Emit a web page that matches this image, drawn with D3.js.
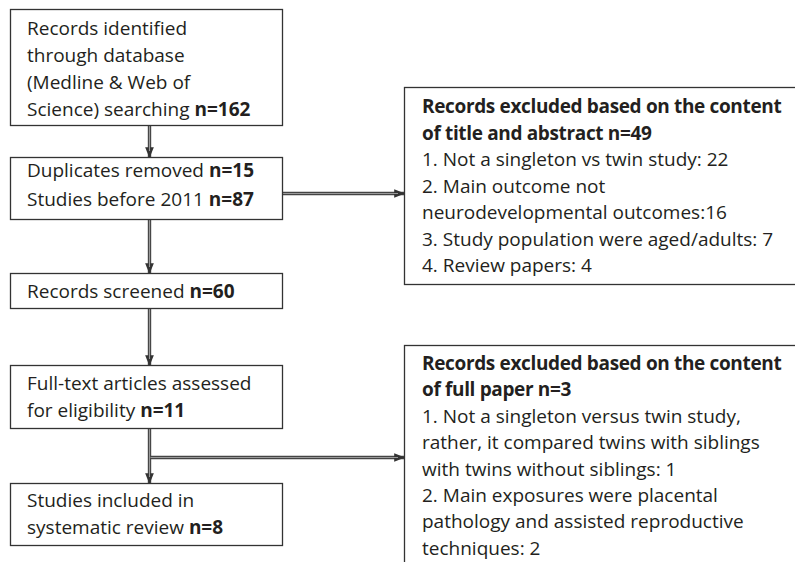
<!DOCTYPE html>
<html><head><meta charset="utf-8">
<script src="https://cdn.jsdelivr.net/npm/d3@7"></script>
<style>body{margin:0;background:#fff}svg{display:block}</style>
</head><body>
<svg id="c" width="795" height="562"></svg>
<script>
// ---- content (text only) ----
const leftBoxTexts = [
  [[["Records identified",0]],[["through database",0]],[["(Medline & Web of",0]],[["Science) searching ",0],["n=162",1]]],
  [[["Duplicates removed ",0],["n=15",1]],[["Studies before 2011 ",0],["n=87",1]]],
  [[["Records screened ",0],["n=60",1]]],
  [[["Full-text articles assessed",0]],[["for eligibility ",0],["n=11",1]]],
  [[["Studies included in",0]],[["systematic review ",0],["n=8",1]]]
];
const rightBoxTexts = [
  [[["Records excluded based on the content",1]],[["of title and abstract n=49",1]],
   [["1. Not a singleton vs twin study: 22",0]],[["2. Main outcome not",0]],
   [["neurodevelopmental outcomes:16",0]],[["3. Study population were aged/adults: 7",0]],
   [["4. Review papers: 4",0]]],
  [[["Records excluded based on the content",1]],[["of full paper n=3",1]],
   [["1. Not a singleton versus twin study,",0]],[["rather, it compared twins with siblings",0]],
   [["with twins without siblings: 1",0]],[["2. Main exposures were placental",0]],
   [["pathology and assisted reproductive",0]],[["techniques: 2",0]]]
];

// ---- layout ----
const leftGeom = [
  {x0:10,x1:282,y0:9,y1:125,base:35,lh:27},
  {x0:10,x1:282,y0:157,y1:219,base:177,lh:29},
  {x0:10,x1:282,y0:273,y1:308,base:298,lh:27},
  {x0:10,x1:282,y0:365,y1:428,base:390,lh:27},
  {x0:10,x1:282,y0:483,y1:545,base:507,lh:27}
];
const rightGeom = [
  {x0:404,x1:800,y0:87,y1:284,base:113,lh:26.5},
  {x0:404,x1:800,y0:345,y1:600,base:370,lh:26.4}
];
const FONT = "'Open Sans', sans-serif";
const FS = 19;

const svg = d3.select("#c");
const defs = svg.append("defs");
defs.append("marker").attr("id","ah").attr("viewBox","0 0 10 10")
  .attr("refX",9).attr("refY",5).attr("markerWidth",3.2).attr("markerHeight",3.2)
  .attr("markerUnits","strokeWidth").attr("orient","auto")
  .append("path").attr("d","M0,1 L10,5 L0,9 Z").attr("fill","#333");

function drawBox(g, geom, lines, leftPad){
  g.append("rect").attr("x",geom.x0+0.5).attr("y",geom.y0+0.5)
    .attr("width",geom.x1-geom.x0).attr("height",geom.y1-geom.y0)
    .attr("fill","#fff").attr("stroke","#333").attr("stroke-width",1.3);
  lines.forEach((segs,i)=>{
    const allBold = segs.every(s=>s[1]);
    const t = g.append("text").attr("x",geom.x0+leftPad).attr("y",geom.base+i*geom.lh)
      .attr("font-family",FONT).attr("font-size",FS).attr("fill","#231f20")
      .attr("letter-spacing", allBold ? -0.35 : 0);
    segs.forEach(s=>{
      t.append("tspan").text(s[0]).attr("font-weight",s[1]?"bold":"normal")
        .attr("style","white-space:pre");
    });
  });
}

function arrow(x1,y1,x2,y2){
  const g = svg.append("g");
  g.append("line").attr("x1",x1).attr("y1",y1).attr("x2",x2).attr("y2",y2)
    .attr("stroke","#444").attr("stroke-width",3.4).attr("marker-end","url(#ah)");
  const dx = x2-x1, dy=y2-y1, L=Math.hypot(dx,dy);
  g.append("line").attr("x1",x1).attr("y1",y1)
    .attr("x2",x2-dx/L*6).attr("y2",y2-dy/L*6)
    .attr("stroke","#999").attr("stroke-width",1.1);
}
const cx = 149.5;
arrow(cx,125.5,cx,157);
arrow(cx,219.5,cx,273);
arrow(cx,308.5,cx,365);
arrow(cx,428.5,cx,483);
arrow(282,193.5,404,193.5);
arrow(cx+1,457.5,404,457.5);

leftGeom.forEach((g,i)=>drawBox(svg.append("g"), g, leftBoxTexts[i], 17));
rightGeom.forEach((g,i)=>drawBox(svg.append("g"), g, rightBoxTexts[i], 18));
</script>
</body></html>
